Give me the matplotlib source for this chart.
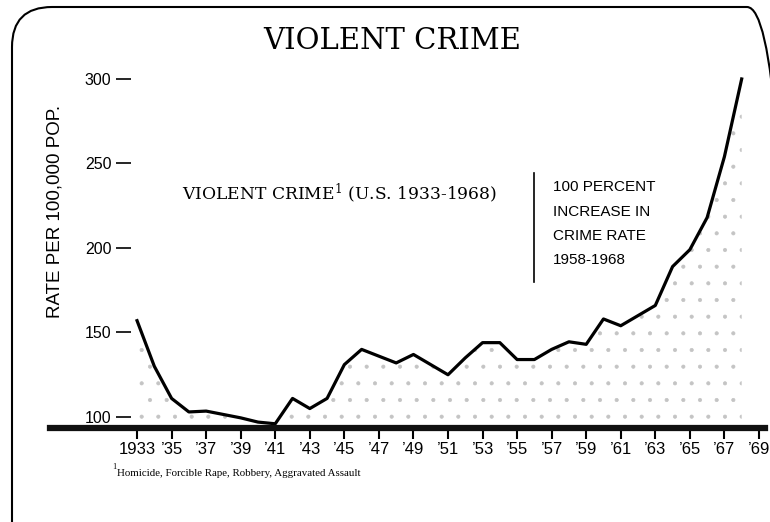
import matplotlib
matplotlib.use("Agg")
import matplotlib.pyplot as plt
from matplotlib.lines import Line2D
from matplotlib.patches import FancyBboxPatch

# Violent crime rate per 100,000 population, U.S. 1933-1968
years = list(range(1933, 1969))
rates = [157, 130, 111, 103, 103.5, 101.5, 99.5, 97, 96, 111,
         105, 111, 131, 140, 136, 132, 137, 131, 125, 135,
         144, 144, 134, 134, 140, 144.5, 143, 158, 154, 160,
         166, 189, 199, 218, 254, 300]

tick_years = list(range(1933, 1970, 2))
tick_labels = ["1933"] + ["\u2019" + str(y)[2:] for y in tick_years[1:]]
y_ticks = [100, 150, 200, 250, 300]
note_lines = ["100 PERCENT", "INCREASE IN", "CRIME RATE", "1958-1968"]

plt.rcParams["font.family"] = "Liberation Sans"
plt.rcParams["mathtext.fontset"] = "dejavuserif"
plt.rcParams["hatch.linewidth"] = 0.5

W, H = 770, 522
fig = plt.figure(figsize=(W / 100, H / 100), dpi=100)
ax = fig.add_axes([131 / W, (H - 428) / H, (765 - 131) / W, (428 - 70) / H])
y0 = 93.5
ax.set_xlim(1932.65, 1969.35)
ax.set_ylim(y0, 305.3)
for s in ax.spines.values():
    s.set_visible(False)

# stippled area under the curve, then the curve itself
ax.fill_between(years, y0, rates, facecolor="none", edgecolor="#c4c4c4",
                hatch=".", linewidth=0, zorder=1)
ax.plot(years, rates, color="black", lw=2.3, solid_joinstyle="round", zorder=3)

# heavy base bar
ax.axhline(y0, xmin=(50 - 131) / (765 - 131), xmax=1.0, color="#111111",
           lw=4.5, clip_on=False, zorder=4)

ax.set_xticks(tick_years)
ax.set_xticklabels(tick_labels)
ax.set_yticks(y_ticks)
ax.tick_params(axis="x", length=8, width=1.5, pad=2, labelsize=12)
ax.tick_params(axis="y", length=11, width=1.2, pad=3, labelsize=11.5)

fig.text(392 / W, 1 - 41 / H, "VIOLENT CRIME", family="DejaVu Serif",
         size=21, ha="center", va="center")
fig.text(182 / W, 1 - 193 / H,
         r"VIOLENT CRIME$^{\mathrm{1}}$ (U.S. 1933-1968)",
         family="DejaVu Serif", size=12.3, ha="left", va="center")
fig.text(55 / W, 1 - 211 / H, "RATE PER 100,000 POP.", rotation=90,
         size=13.5, ha="center", va="center")

# annotation
fig.add_artist(Line2D([534 / W, 534 / W], [1 - 173 / H, 1 - 282 / H],
                      transform=fig.transFigure, color="black", lw=1.2))
for i, line in enumerate(note_lines):
    fig.text(553 / W, 1 - (187 + 24.5 * i) / H, line, size=11,
             ha="left", va="center")

# footnote
fig.text(112 / W, 1 - 467 / H, "1", family="Liberation Serif", size=6,
         ha="left", va="center")
fig.text(117 / W, 1 - 474 / H,
         "Homicide, Forcible Rape, Robbery, Aggravated Assault",
         family="Liberation Serif", size=7.8, ha="left", va="center")

# rounded frame (right side runs off the page, as in the scan)
frame = FancyBboxPatch((0.12, -0.5), 7.75, 5.15 + 0.5,
                       boxstyle="round,pad=0,rounding_size=0.4",
                       transform=fig.dpi_scale_trans, fill=False,
                       edgecolor="black", lw=1.5)
fig.add_artist(frame)

fig.savefig("out.png", dpi=100)
